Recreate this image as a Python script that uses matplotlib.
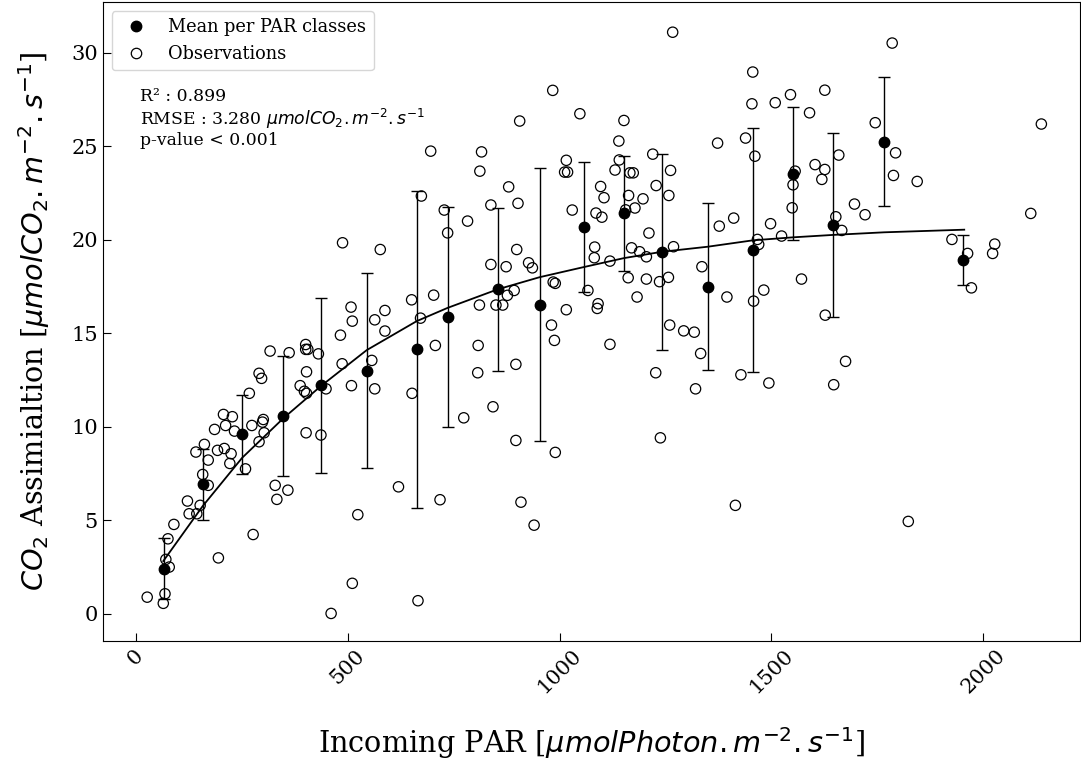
import matplotlib
matplotlib.use('Agg')
import matplotlib.pyplot as plt
from matplotlib.lines import Line2D

plt.rcParams['font.family'] = 'serif'
plt.rcParams['font.serif'] = ['DejaVu Serif']

# Observations (PAR, CO2 assimilation)
obs_par = [
    483, 317, 362, 401, 401, 406, 431, 487, 403, 291, 297, 268, 509, 388, 398, 403, 449,
    207, 228, 186, 212, 233, 274, 301, 299, 303, 291, 402, 437, 142, 162, 171, 193, 209,
    225, 222, 259, 158, 171, 329, 359, 333, 122, 152, 126, 144, 90, 76, 277, 71, 79, 195,
    69, 27, 65, 511, 461, 524, 488, 508, 511,
    696, 816, 812, 880, 838, 902, 1016, 1012, 1019, 1030, 674, 728, 736, 783, 577, 838,
    874, 899, 927, 936, 985, 990, 893, 877, 866, 850, 811, 703, 651, 672, 564, 588, 588,
    557, 564, 707, 808, 807, 897, 1016, 981, 988, 652, 843, 774, 897, 990, 620, 718, 909,
    940, 666, 984, 906,
    1267, 1456, 1454, 1509, 1545, 1626, 1590, 1152, 1048, 1140, 1439, 1373, 1220, 1141,
    1461, 1659, 1131, 1166, 1174, 1262, 1097, 1105, 1228, 1258, 1163, 1197, 1178, 1086,
    1100, 1156, 1603, 1626, 1619, 1556, 1551, 1549, 1211, 1170, 1189, 1205, 1083, 1082,
    1119, 1269, 1377, 1411, 1498, 1524, 1467, 1470, 1336, 1067, 1091, 1089, 1162, 1205,
    1183, 1236, 1257, 1119, 1260, 1293, 1318, 1333, 1395, 1482, 1458, 1571, 1627, 1227,
    1321, 1428, 1494, 1647, 1238,
    1652, 1666, 1696, 1721, 1745, 1785, 1793, 1788, 1844, 2137, 2112, 1926, 1963, 2027,
    2022, 1972, 1675, 1823, 1415,
]
obs_co2 = [
    14.9, 14.05, 13.96, 14.4, 14.14, 14.14, 13.9, 13.37, 12.94, 12.86, 12.59, 11.79, 12.2,
    12.2, 11.9, 11.79, 12.03, 10.66, 10.54, 9.86, 10.07, 9.77, 10.07, 10.39, 10.25, 9.68,
    9.2, 9.68, 9.56, 8.65, 9.06, 8.22, 8.74, 8.84, 8.56, 8.04, 7.75, 7.45, 6.87, 6.87,
    6.61, 6.12, 6.03, 5.8, 5.35, 5.35, 4.78, 4.01, 4.24, 2.91, 2.5, 2.99, 1.07, 0.89,
    0.56, 1.63, 0.02, 5.3, 19.84, 16.4, 15.65,
    24.74, 24.7, 23.67, 22.83, 21.86, 21.95, 24.25, 23.62, 23.62, 21.59, 22.34, 21.59,
    20.37, 21.0, 19.48, 18.68, 18.56, 19.48, 18.77, 18.5, 17.74, 17.67, 17.29, 17.03,
    16.51, 16.51, 16.51, 17.04, 16.79, 15.81, 15.72, 16.22, 15.12, 13.55, 12.03, 14.35,
    14.35, 12.89, 13.34, 16.26, 15.44, 14.62, 11.79, 11.07, 10.48, 9.27, 8.63, 6.79, 6.1,
    5.97, 4.74, 0.7, 27.99, 26.35,
    31.1, 28.97, 27.27, 27.33, 27.76, 28.0, 26.79, 26.38, 26.74, 25.28, 25.44, 25.17,
    24.58, 24.27, 24.47, 24.53, 23.73, 23.58, 23.58, 23.71, 22.85, 22.25, 22.9, 22.37,
    22.37, 22.19, 21.7, 21.43, 21.21, 21.6, 24.02, 23.76, 23.23, 23.67, 22.94, 21.71,
    20.36, 19.57, 19.36, 19.09, 19.61, 19.04, 18.86, 19.63, 20.73, 21.16, 20.86, 20.2,
    20.02, 19.75, 18.56, 17.29, 16.58, 16.33, 17.97, 17.9, 16.94, 17.76, 17.99, 14.41,
    15.44, 15.13, 15.06, 13.92, 16.94, 17.31, 16.72, 17.9, 15.97, 12.89, 12.03, 12.78,
    12.34, 12.25, 9.41,
    21.23, 20.5, 21.91, 21.34, 26.26, 30.52, 24.65, 23.44, 23.12, 26.19, 21.41, 20.02,
    19.27, 19.77, 19.27, 17.43, 13.5, 4.94, 5.8,
]

# Mean per PAR class and standard deviation
class_par = [67, 158, 251, 348, 437, 545, 663, 736, 854, 953, 1057, 1152, 1242, 1350,
             1456, 1550, 1645, 1766, 1953]
class_mean = [2.41, 6.92, 9.59, 10.57, 12.21, 13.01, 14.14, 15.87, 17.35, 16.52, 20.68,
              21.41, 19.34, 17.49, 19.47, 23.53, 20.8, 25.24, 18.91]
class_std = [1.62, 1.89, 2.09, 3.19, 4.70, 5.22, 8.47, 5.89, 4.37, 7.30, 3.46, 3.07,
             5.26, 4.46, 6.52, 3.56, 4.92, 3.45, 1.34]

# Fitted light response curve, read at the class positions
fit_par = [65, 158, 251, 348, 437, 545, 663, 736, 854, 953, 1057, 1152, 1242, 1350,
           1456, 1550, 1645, 1766, 1955]
fit_co2 = [2.82, 5.76, 8.34, 10.45, 12.18, 14.1, 15.65, 16.36, 17.35, 18.0, 18.54,
           19.02, 19.36, 19.63, 19.97, 20.13, 20.26, 20.4, 20.54]

fig = plt.figure(figsize=(10.81, 7.63), dpi=100)
ax = fig.add_axes([0.095, 0.16, 0.904, 0.837])

ax.scatter(obs_par, obs_co2, s=55, facecolors='none', edgecolors='black',
           linewidths=0.9, zorder=2)
ax.errorbar(class_par, class_mean, yerr=class_std, fmt='o', color='black',
            ms=7.5, capsize=4, elinewidth=1, capthick=1, zorder=3)
ax.plot(fit_par, fit_co2, color='black', lw=1.3, zorder=4)

ax.set_xlim(-78, 2228)
ax.set_ylim(-1.45, 32.7)
ax.set_xticks([0, 500, 1000, 1500, 2000])
ax.set_yticks([0, 5, 10, 15, 20, 25, 30])
ax.tick_params(direction='in', length=6, labelsize=15)
ax.tick_params(axis='x', labelrotation=45)

ax.set_xlabel(r'Incoming PAR [$\mu mol Photon. m^{-2}. s^{-1}$]', fontsize=20.7,
              labelpad=20)
ax.set_ylabel(r'$CO_2$ Assimialtion [$\mu mol CO_2. m^{-2}. s^{-1}$]', fontsize=20.7,
              labelpad=14)

handles = [
    Line2D([], [], ls='none', marker='o', ms=7.5, color='black'),
    Line2D([], [], ls='none', marker='o', ms=7.5, mfc='none', mec='black', mew=0.9),
]
ax.legend(handles, ['Mean per PAR classes', 'Observations'], loc='upper left',
          fontsize=12.8)

ax.text(0.038, 0.866,
        'R² : 0.899\n'
        r'RMSE : 3.280 $\mu mol CO_2. m^{-2}. s^{-1}$' '\n'
        'p-value < 0.001',
        transform=ax.transAxes, fontsize=12.4, va='top', ha='left', linespacing=1.1)

fig.savefig('out.png', dpi=100, facecolor='white')
